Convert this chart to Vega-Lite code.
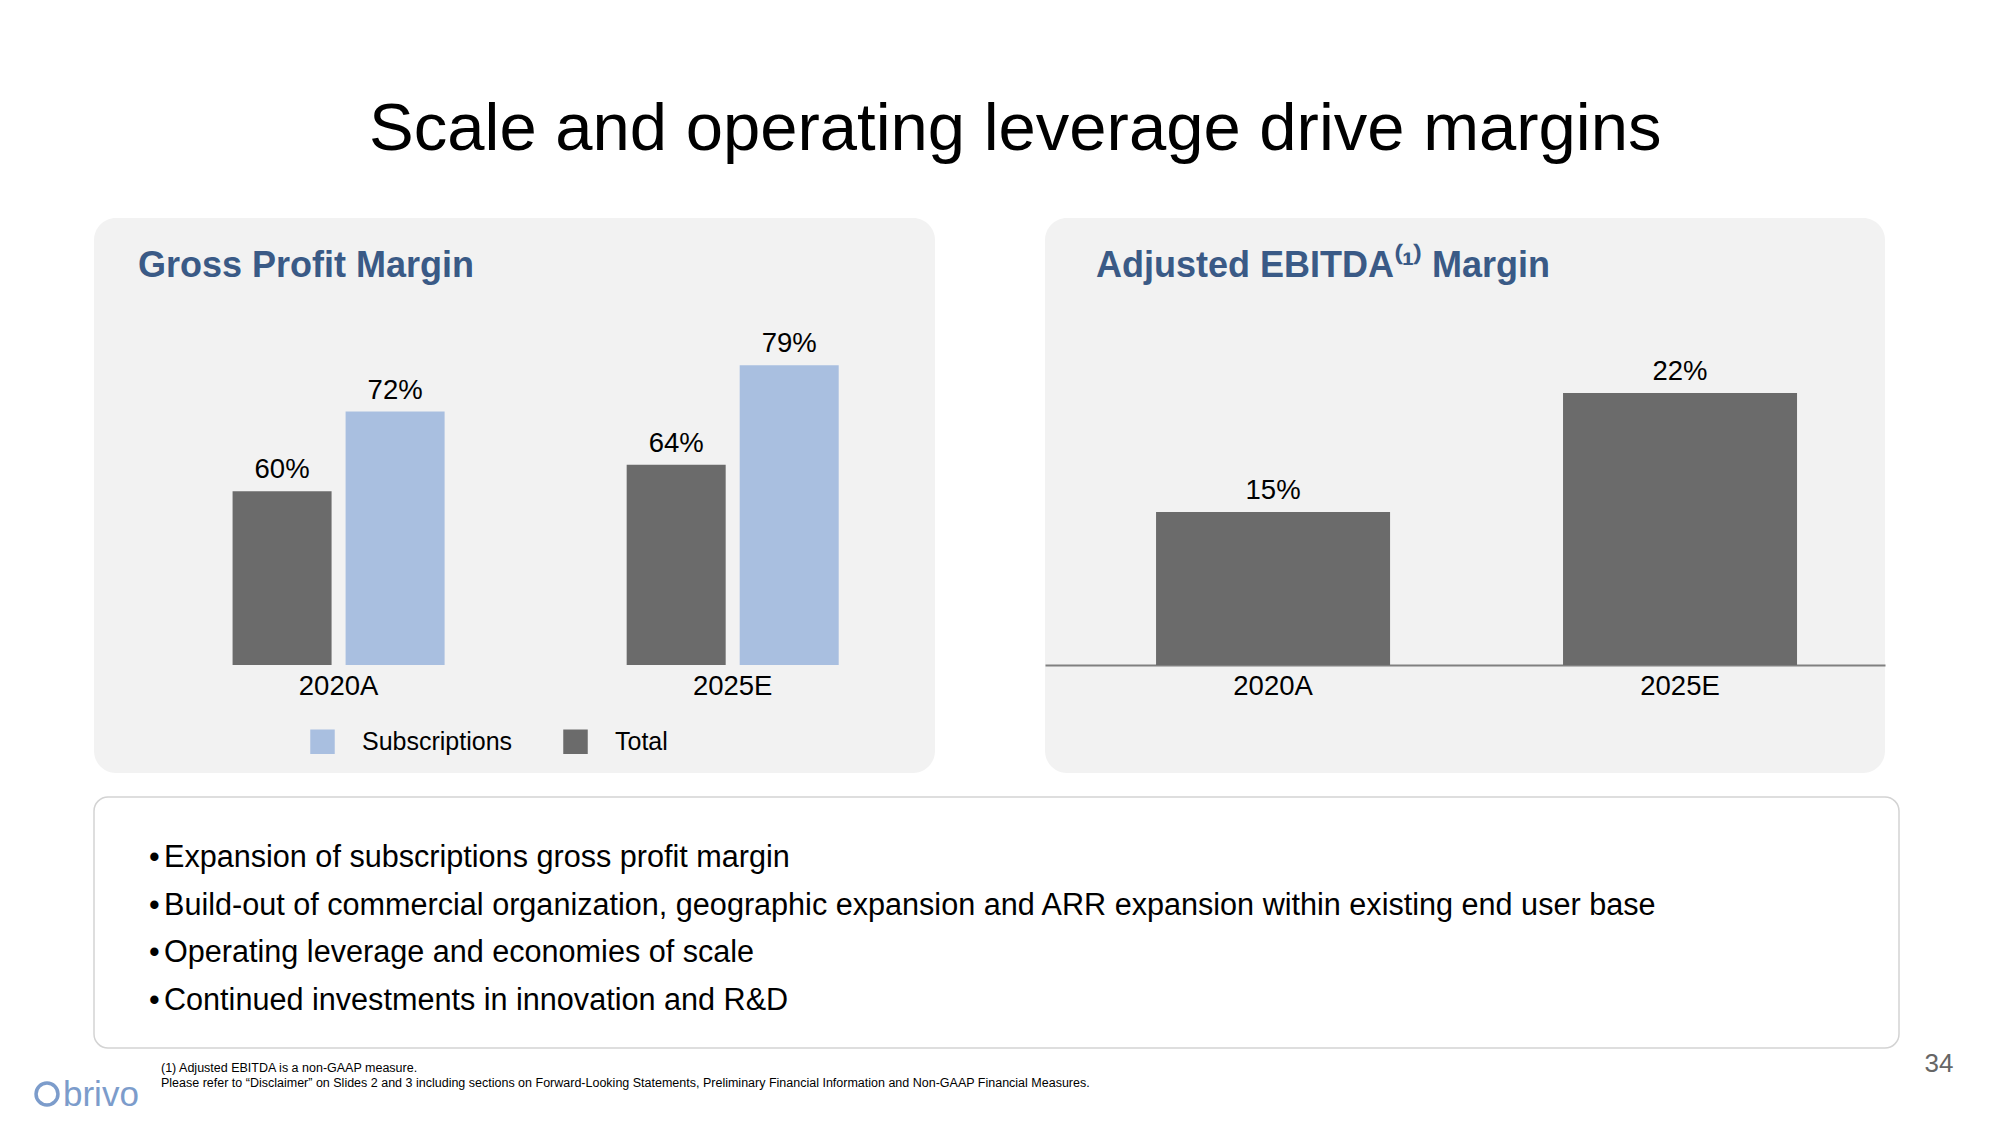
{
  "$schema": "https://vega.github.io/schema/vega-lite/v6.json",
  "background": "white",
  "padding": {"left": 28, "top": 96, "right": 10, "bottom": 10},
  "spacing": 23,
  "title": {
    "text": "Scale and operating leverage drive margins",
    "fontSize": 67,
    "fontWeight": "normal",
    "color": "#000000",
    "anchor": "middle",
    "offset": 54,
    "dx": 24
  },
  "datasets": {
    "gpm": [
      {"year": "2020A", "series": "Total", "value": 0.60},
      {"year": "2020A", "series": "Subscriptions", "value": 0.72},
      {"year": "2025E", "series": "Total", "value": 0.64},
      {"year": "2025E", "series": "Subscriptions", "value": 0.79}
    ],
    "ebitda": [
      {"year": "2020A", "value": 0.15},
      {"year": "2025E", "value": 0.22}
    ],
    "bullets": [
      {"n": 1, "text": "Expansion of subscriptions gross profit margin"},
      {"n": 2, "text": "Build-out of commercial organization, geographic expansion and ARR expansion within existing end user base"},
      {"n": 3, "text": "Operating leverage and economies of scale"},
      {"n": 4, "text": "Continued investments in innovation and R&D"}
    ],
    "notes": [
      {"line": 1, "text": "(1)   Adjusted EBITDA is a non-GAAP measure."},
      {"line": 2, "text": "Please refer to \u201cDisclaimer\u201d on Slides 2 and 3 including sections on Forward-Looking Statements, Preliminary Financial Information and Non-GAAP Financial Measures."}
    ]
  },
  "vconcat": [
    {
      "hconcat": [
        {
          "width": 841,
          "height": 555,
          "view": {"fill": "#f2f2f2", "stroke": null, "cornerRadius": 22},
          "title": {
            "text": "Gross Profit Margin",
            "anchor": "start",
            "frame": "group",
            "orient": "top",
            "baseline": "bottom",
            "offset": -103,
            "dx": 44,
            "fontSize": 36,
            "fontWeight": "bold",
            "color": "#3A5A86"
          },
          "data": {"name": "gpm"},
          "encoding": {
            "x": {
              "field": "year",
              "type": "nominal",
              "scale": {"paddingInner": 0.462, "paddingOuter": 0.298, "align": 0.59},
              "axis": {
                "orient": "bottom",
                "offset": -108,
                "domain": false,
                "ticks": false,
                "labelPadding": 7,
                "labelFontSize": 27.5,
                "labelAngle": 0,
                "labelColor": "#000000",
                "title": null
              }
            },
            "xOffset": {
              "field": "series",
              "type": "nominal",
              "sort": ["Total", "Subscriptions"],
              "scale": {"paddingInner": 0.124, "paddingOuter": 0}
            },
            "y": {
              "field": "value",
              "type": "quantitative",
              "scale": {"domain": [0.175, 1.012], "zero": false, "nice": false},
              "axis": null
            }
          },
          "layer": [
            {
              "mark": {"type": "bar"},
              "encoding": {
                "y2": {"datum": 0.338},
                "color": {
                  "field": "series",
                  "type": "nominal",
                  "scale": {"domain": ["Subscriptions", "Total"], "range": ["#A9BFE0", "#6B6B6B"]},
                  "legend": {
                    "orient": "none",
                    "legendX": 216,
                    "legendY": 511,
                    "direction": "horizontal",
                    "title": null,
                    "symbolType": "square",
                    "symbolSize": 600,
                    "symbolStrokeWidth": 0,
                    "symbolOpacity": 1,
                    "labelFontSize": 25,
                    "labelOffset": 27,
                    "labelColor": "#000000",
                    "columnPadding": 50
                  }
                }
              }
            },
            {
              "mark": {"type": "text", "baseline": "alphabetic", "dy": -13, "fontSize": 27.5, "color": "#000000"},
              "encoding": {"text": {"field": "value", "type": "quantitative", "format": ".0%"}}
            }
          ]
        },
        {
          "width": 840,
          "height": 555,
          "view": {"fill": "#f2f2f2", "stroke": null, "cornerRadius": 22},
          "title": {
            "text": "Adjusted EBITDA\u207D\u00B9\u207E Margin",
            "anchor": "start",
            "frame": "group",
            "orient": "top",
            "baseline": "bottom",
            "offset": -103,
            "dx": 51,
            "fontSize": 36,
            "fontWeight": "bold",
            "color": "#3A5A86"
          },
          "data": {"name": "ebitda"},
          "encoding": {
            "x": {
              "field": "year",
              "type": "nominal",
              "scale": {"paddingInner": 0.425, "paddingOuter": 0.2445, "align": 0.558},
              "axis": {
                "orient": "bottom",
                "offset": -108,
                "domain": true,
                "domainColor": "#808080",
                "domainWidth": 2,
                "ticks": false,
                "labelPadding": 7,
                "labelFontSize": 27.5,
                "labelAngle": 0,
                "labelColor": "#000000",
                "title": null
              }
            },
            "y": {
              "field": "value",
              "type": "quantitative",
              "scale": {"domain": [-0.0035, 0.3229], "zero": false, "nice": false},
              "axis": null
            }
          },
          "layer": [
            {
              "mark": {"type": "bar", "color": "#6B6B6B"},
              "encoding": {"y2": {"datum": 0.06}}
            },
            {
              "mark": {"type": "text", "baseline": "alphabetic", "dy": -13, "fontSize": 27.5, "color": "#000000"},
              "encoding": {"text": {"field": "value", "type": "quantitative", "format": ".0%"}}
            }
          ]
        }
      ],
      "spacing": 110
    },
    {
      "width": 1805,
      "height": 251,
      "view": {"fill": "white", "stroke": "#d3d3d3", "strokeWidth": 1.5, "cornerRadius": 14},
      "resolve": {"scale": {"y": "independent"}},
      "layer": [
        {
          "data": {"name": "bullets"},
          "mark": {"type": "text", "align": "left", "baseline": "middle", "fontSize": 30.6, "color": "#000000", "x": 55, "text": "\u2022"},
          "encoding": {
            "y": {"field": "n", "type": "ordinal", "scale": {"type": "point", "range": [61, 204], "padding": 0}, "axis": null}
          }
        },
        {
          "data": {"name": "bullets"},
          "mark": {"type": "text", "align": "left", "baseline": "middle", "fontSize": 30.6, "color": "#000000", "x": 70},
          "encoding": {
            "y": {"field": "n", "type": "ordinal", "scale": {"type": "point", "range": [61, 204], "padding": 0}, "axis": null},
            "text": {"field": "text"}
          }
        },
        {
          "data": {"name": "notes"},
          "mark": {"type": "text", "align": "left", "baseline": "middle", "fontSize": 12.5, "color": "#000000", "x": 67},
          "encoding": {
            "y": {"field": "line", "type": "ordinal", "scale": {"type": "point", "range": [271, 286], "padding": 0}, "axis": null},
            "text": {"field": "text"}
          }
        },
        {
          "data": {"values": [{"label": "brivo"}]},
          "mark": {"type": "text", "align": "left", "baseline": "middle", "fontSize": 35, "color": "#7C9CCB", "x": -31, "y": 298},
          "encoding": {"text": {"field": "label"}}
        },
        {
          "data": {"values": [{"label": "logo"}]},
          "mark": {"type": "point", "shape": "circle", "size": 480, "filled": false, "strokeWidth": 3.5, "color": "#7C9CCB", "opacity": 1, "x": -47, "y": 297},
          "encoding": {}
        },
        {
          "data": {"values": [{"label": "34"}]},
          "mark": {"type": "text", "align": "center", "baseline": "middle", "fontSize": 26, "color": "#666666", "x": 1845, "y": 267},
          "encoding": {"text": {"field": "label"}}
        }
      ]
    }
  ],
  "config": {
    "font": "Liberation Sans",
    "title": {"font": "Liberation Sans"},
    "axis": {"labelFont": "Liberation Sans"},
    "legend": {"labelFont": "Liberation Sans"},
    "text": {"font": "Liberation Sans"}
  }
}
